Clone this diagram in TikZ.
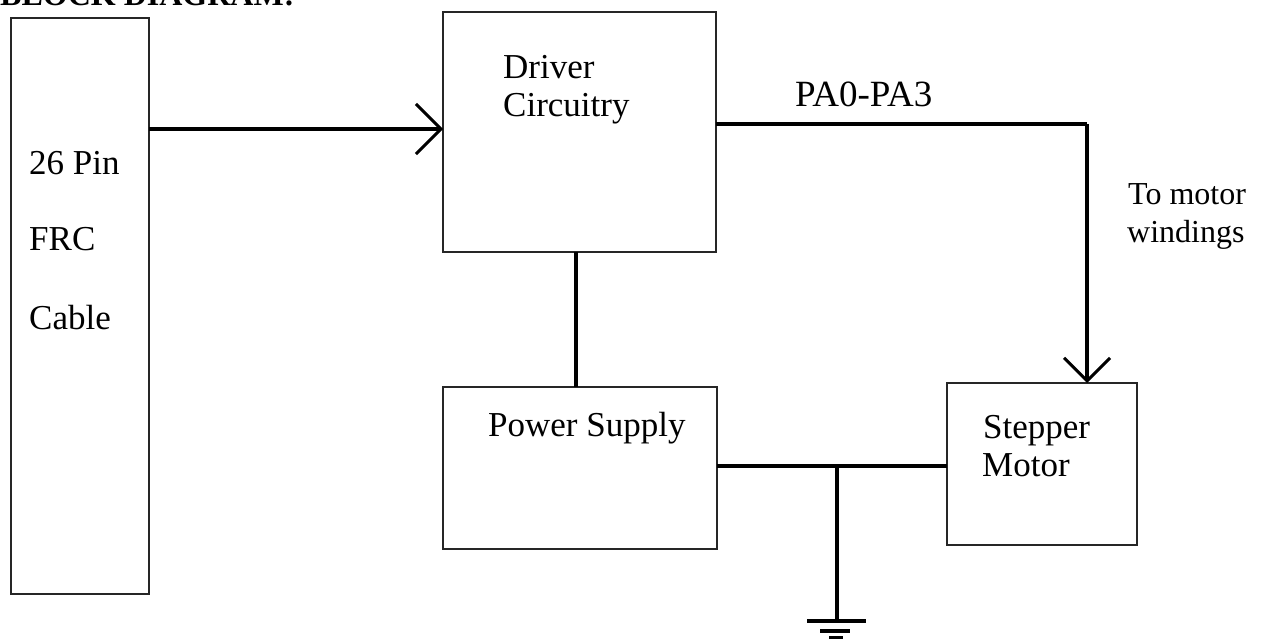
\documentclass[tikz,border=0pt]{standalone}
\usepackage{fontspec}
\setmainfont{Liberation Serif}
\usetikzlibrary{arrows.meta}
\begin{document}
\begin{tikzpicture}[x=1pt,y=-1pt,
  blk/.style={draw=black!85, line width=2pt, inner sep=0pt, outer sep=0pt, anchor=north west},
  lbl/.style={anchor=base west, inner sep=0pt, font=\fontsize{35}{40}\selectfont},
  conn/.style={line width=4pt, black},
  barb/.style={-{Straight Barb[length=25pt,width=50pt,line width=3pt]}}]
\useasboundingbox (0,0) rectangle (1264,639);
\begin{scope}
\clip (0,0) rectangle (1264,639);
\node[anchor=base west, inner sep=0pt, font=\bfseries\fontsize{32}{36}\selectfont] (title) at (0,6) {BLOCK DIAGRAM:};
\end{scope}
% blocks
\node[blk, minimum width=138pt, minimum height=576pt] (frc) at (11,18) {};
\node[blk, minimum width=273pt, minimum height=240pt] (drv) at (443,12) {};
\node[blk, minimum width=274pt, minimum height=162pt] (pwr) at (443,387) {};
\node[blk, minimum width=190pt, minimum height=162pt] (stp) at (947,383) {};
% labels
\node[lbl] (t1) at (29,175) {26 Pin};
\node[lbl] (t2) at (29,251) {FRC};
\node[lbl] (t3) at (29,329) {Cable};
\node[lbl] (d1) at (503,79) {Driver};
\node[lbl] (d2) at (503,117) {Circuitry};
\node[lbl] (p1) at (488,436) {Power Supply};
\node[lbl] (s1) at (983,438) {Stepper};
\node[lbl] (s2) at (982,476) {Motor};
\node[lbl, font=\fontsize{37}{40}\selectfont] (pa) at (795,107) {PA0-PA3};
\node[lbl, font=\fontsize{32}{36}\selectfont] (w1) at (1128,205) {To motor};
\node[lbl, font=\fontsize{32}{36}\selectfont] (w2) at (1127,243) {windings};
% connectors
\coordinate (inY) at (300,129);
\draw[conn, barb] (frc.east |- inY) -- (drv.west |- inY);
\coordinate (corner) at (1087,124);
\draw[conn] (drv.east |- corner) -- (corner);
\draw[conn, -{Straight Barb[length=23pt,width=46pt,line width=3pt]}] (corner) -- (stp.north -| corner);
\coordinate (vX) at (576,300);
\draw[conn] (drv.south -| vX) -- (pwr.north -| vX);
\coordinate (gY) at (837,466);
\coordinate (gnd) at (837,621);
\draw[conn] (pwr.east |- gY) -- (stp.west |- gY);
\draw[conn] (gY) -- (gnd);
\draw[line width=3.5pt] ([xshift=-30pt]gnd) -- ([xshift=29pt]gnd);
\draw[line width=3.5pt] ([xshift=-17pt,yshift=-10pt]gnd) -- ([xshift=13pt,yshift=-10pt]gnd);
\draw[line width=3.5pt] ([xshift=-8pt,yshift=-17pt]gnd) -- ([xshift=6pt,yshift=-17pt]gnd);
\end{tikzpicture}
\end{document}
